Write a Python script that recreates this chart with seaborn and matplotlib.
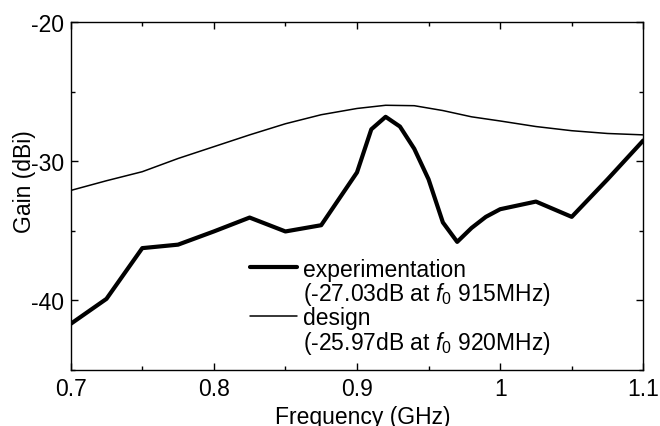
import numpy as np
import pandas as pd
import matplotlib
matplotlib.use('Agg')
import matplotlib.pyplot as plt
from matplotlib.lines import Line2D
from matplotlib.ticker import MultipleLocator, FuncFormatter
import seaborn as sns

freq_exp = [0.7, 0.725, 0.75, 0.775, 0.8, 0.825, 0.85, 0.875, 0.9, 0.91, 0.92,
            0.93, 0.94, 0.95, 0.96, 0.97, 0.98, 0.99, 1.0, 1.025, 1.05, 1.075, 1.1]
gain_exp = [-41.7, -39.9, -36.25, -36.0, -35.05, -34.05, -35.05, -34.6, -30.8, -27.7, -26.8,
            -27.5, -29.1, -31.3, -34.4, -35.8, -34.8, -34.0, -33.45, -32.9, -34.0, -31.3, -28.5]

# simulated (design) gain
freq_des = [0.7, 0.725, 0.75, 0.775, 0.8, 0.825, 0.85, 0.875, 0.9, 0.92,
            0.94, 0.96, 0.98, 1.0, 1.025, 1.05, 1.075, 1.1]
gain_des = [-32.1, -31.4, -30.75, -29.8, -28.95, -28.1, -27.3, -26.65, -26.2, -25.97,
            -26.0, -26.35, -26.8, -27.1, -27.5, -27.8, -28.0, -28.1]

label_exp = ['experimentation', '(-27.03dB at $f_0$ 915MHz)']
label_des = ['design', '(-25.97dB at $f_0$ 920MHz)']

exp_df = pd.DataFrame({'freq': freq_exp, 'gain': gain_exp})
des_df = pd.DataFrame({'freq': freq_des, 'gain': gain_des})

sns.set_theme(style='ticks')
plt.rcParams['font.family'] = ['Liberation Sans', 'DejaVu Sans']
plt.rcParams['text.color'] = 'black'
plt.rcParams['axes.unicode_minus'] = False
plt.rcParams['mathtext.fontset'] = 'custom'
plt.rcParams['mathtext.rm'] = 'Liberation Sans'
plt.rcParams['mathtext.it'] = 'Liberation Sans:italic'

fs = 16.5

fig = plt.figure(figsize=(6.6, 4.27), dpi=100)
ax = fig.add_axes([0.1071, 0.1318, 0.8676, 0.8136])

sns.lineplot(data=des_df, x='freq', y='gain', color='black', linewidth=1.1, ax=ax)
sns.lineplot(data=exp_df, x='freq', y='gain', color='black', linewidth=3.0, ax=ax)

ax.set_xlim(0.7, 1.1)
ax.set_ylim(-45, -20)
ax.xaxis.set_major_locator(MultipleLocator(0.1))
ax.xaxis.set_minor_locator(MultipleLocator(0.05))
ax.yaxis.set_major_locator(MultipleLocator(10))
ax.yaxis.set_minor_locator(MultipleLocator(5))
ax.xaxis.set_major_formatter(FuncFormatter(lambda v, p: f'{v:g}'))
ax.yaxis.set_major_formatter(FuncFormatter(lambda v, p: f'{v:g}'))

ax.tick_params(which='both', direction='in', top=True, right=True, color='black',
               width=1.0, labelsize=fs, labelcolor='black')
ax.tick_params(which='major', length=5, pad=5)
ax.tick_params(which='minor', length=3)
for s in ax.spines.values():
    s.set_linewidth(1.0)
    s.set_color('black')

ax.set_xlabel('Frequency (GHz)', fontsize=fs, color='black', va='top')
ax.set_ylabel('Gain (dBi)', fontsize=fs, color='black')
ax.xaxis.set_label_coords(0.51, -0.102)
ax.yaxis.set_label_coords(-0.061, 0.545)

blank = Line2D([], [], color='none')
handles = [Line2D([], [], color='black', linewidth=3.0), blank,
           Line2D([], [], color='black', linewidth=1.1), blank]
labels = [label_exp[0], label_exp[1], label_des[0], label_des[1]]
ax.legend(handles, labels, loc='upper left', bbox_to_anchor=(0.313, 0.323),
          frameon=False, fontsize=fs, handlelength=2.04, handletextpad=0.26,
          labelspacing=-0.025, borderpad=0, borderaxespad=0)

plt.savefig('out.png', dpi=100)
plt.close()
